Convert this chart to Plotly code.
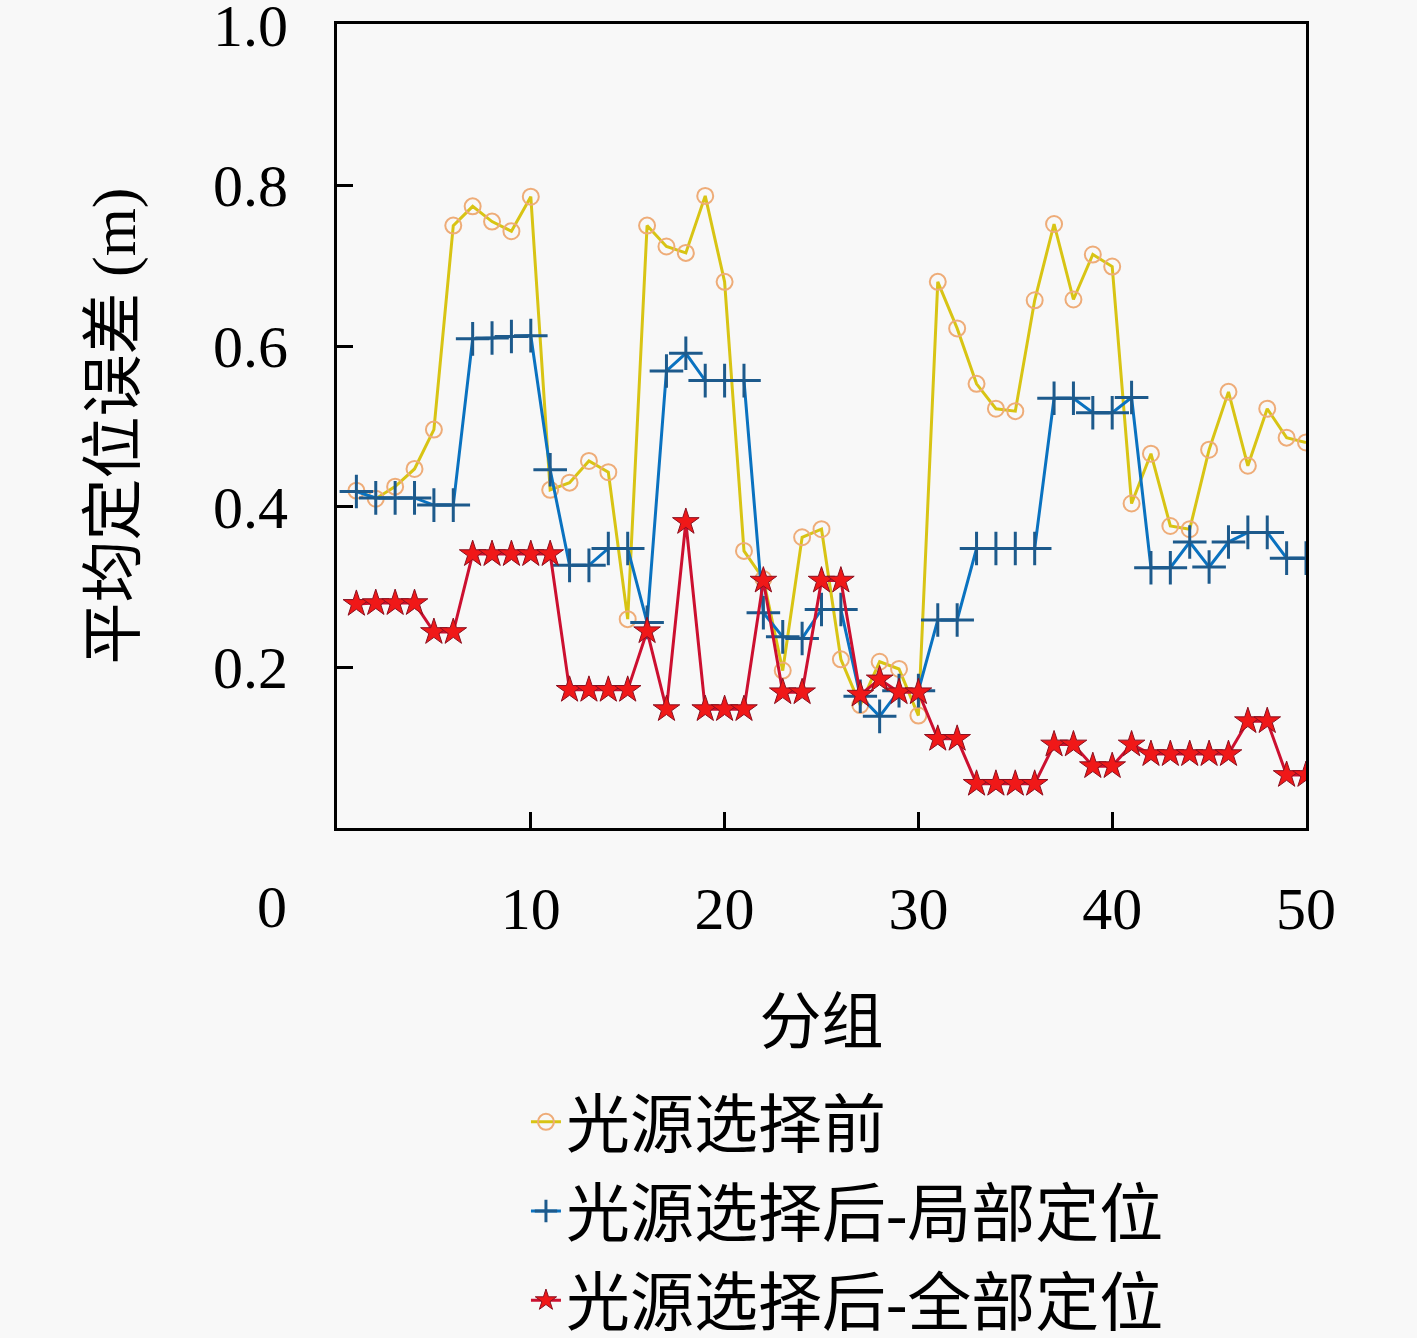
import plotly.graph_objects as go

groups = list(range(1, 51))

# 光源选择前
before = [0.42, 0.41, 0.425, 0.447, 0.496, 0.75, 0.774, 0.755, 0.743, 0.786,
          0.421, 0.43, 0.457, 0.443, 0.26, 0.75, 0.724, 0.716, 0.787, 0.68,
          0.345, 0.31, 0.196, 0.362, 0.372, 0.21, 0.153, 0.207, 0.198, 0.14,
          0.68, 0.622, 0.553, 0.522, 0.519, 0.657, 0.752, 0.658, 0.714, 0.699,
          0.404, 0.466, 0.376, 0.372, 0.471, 0.543, 0.451, 0.522, 0.486, 0.48]

# 光源选择后-局部定位
after_local = [0.419, 0.411, 0.411, 0.411, 0.402, 0.402, 0.609, 0.61, 0.612, 0.613,
               0.446, 0.327, 0.327, 0.348, 0.348, 0.256, 0.569, 0.591, 0.557, 0.557,
               0.557, 0.268, 0.238, 0.236, 0.272, 0.272, 0.164, 0.139, 0.171, 0.171,
               0.259, 0.259, 0.348, 0.348, 0.348, 0.348, 0.535, 0.535, 0.517, 0.517,
               0.536, 0.324, 0.324, 0.356, 0.325, 0.356, 0.368, 0.368, 0.336, 0.336]

# 光源选择后-全部定位
after_global = [0.279, 0.28, 0.28, 0.28, 0.244, 0.244, 0.341, 0.341, 0.341, 0.341,
                0.341, 0.172, 0.172, 0.172, 0.172, 0.245, 0.148, 0.381, 0.148, 0.148,
                0.148, 0.308, 0.169, 0.169, 0.308, 0.308, 0.166, 0.185, 0.169, 0.169,
                0.111, 0.111, 0.055, 0.055, 0.055, 0.055, 0.104, 0.104, 0.077, 0.077,
                0.104, 0.092, 0.092, 0.092, 0.092, 0.092, 0.133, 0.133, 0.066, 0.066]

names = ["光源选择前", "光源选择后-局部定位", "光源选择后-全部定位"]
y_ticks = [0.2, 0.4, 0.6, 0.8, 1.0]
x_ticks = [10, 20, 30, 40, 50]

font_family = "Liberation Serif, Noto Sans CJK SC"
bg = "#f8f8f8"

fig = go.Figure()

fig.add_trace(go.Scatter(
    x=groups, y=before, name=names[0], legendgroup="a", mode="lines+markers",
    line=dict(color="#d8c414", width=3),
    marker=dict(symbol="circle-open", size=16, color="#eeac78",
                line=dict(width=2, color="#eeac78")),
))

fig.add_trace(go.Scatter(
    x=groups, y=after_local, name=names[1], legendgroup="b", mode="lines+markers",
    line=dict(color="#0a72c0", width=3),
    marker=dict(symbol="cross-thin", size=24, color="#1d5a8c",
                line=dict(width=3, color="#1d5a8c")),
))

fig.add_trace(go.Scatter(
    x=groups, y=after_global, name=names[2], legendgroup="c", mode="lines+markers",
    line=dict(color="#cc1030", width=3),
    marker=dict(symbol="star", size=20, color="#f01818",
                line=dict(width=1, color="#8a1020")),
))

fig.update_layout(
    width=1417, height=1338,
    margin=dict(l=337, r=111, t=24, b=510),
    paper_bgcolor=bg, plot_bgcolor=bg,
    font=dict(family=font_family, size=60, color="black"),
    showlegend=True,
    legend=dict(x=0.195, xref="paper", y=0.1975, yref="container",
                xanchor="left", yanchor="top",
                bgcolor="rgba(0,0,0,0)", tracegroupgap=3,
                font=dict(size=64)),
    xaxis=dict(
        title=dict(text="分组", standoff=60, font=dict(size=62)),
        range=[0, 50], tickvals=x_ticks, ticks="inside", ticklen=16,
        tickwidth=3, tickcolor="black", showline=True, linewidth=3,
        linecolor="black", mirror=True, showgrid=False, zeroline=False,
        ticklabelstandoff=26, automargin=False,
    ),
    yaxis=dict(
        title=dict(text="平均定位误差 (m)", standoff=58, font=dict(size=62)),
        range=[0, 1.001], tickvals=y_ticks, tickformat=".1f", ticks="inside",
        ticklen=16, tickwidth=3, tickcolor="black", showline=True, linewidth=3,
        linecolor="black", mirror=True, showgrid=False, zeroline=False,
        ticklabelstandoff=34, ticklabeloverflow="allow", automargin=False,
    ),
)

fig.add_annotation(text="0", xref="paper", yref="paper", x=-0.067, y=-0.098,
                   xanchor="center", yanchor="middle",
                   showarrow=False, font=dict(size=60))

fig.write_html(
    "out.html",
    config={"displayModeBar": False},
    post_script="document.body.style.margin='0';"
                "document.body.style.background='#f8f8f8';",
)
